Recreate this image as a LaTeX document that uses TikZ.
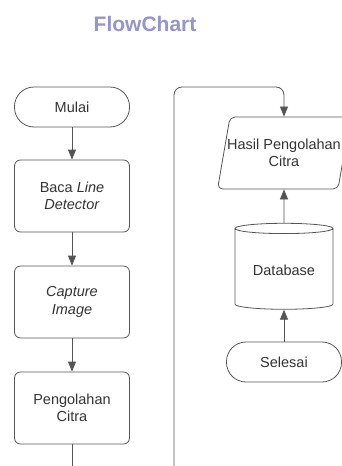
\documentclass[tikz,border=0pt]{standalone}
\usepackage{fontspec}
\setmainfont{Liberation Sans}
\usepackage{xcolor}
\usepackage{tikz}
\usetikzlibrary{positioning}
\usetikzlibrary{shapes.geometric,arrows.meta}
\definecolor{garis}{RGB}{85,85,85}
\definecolor{judul}{RGB}{148,148,206}
\definecolor{teks}{RGB}{51,51,51}

\begin{document}
\begin{tikzpicture}[x=1pt, y=1pt, node distance = 106pt and 2cm, on grid, line width=0.8pt, font=\fontsize{14.5}{17.5}\selectfont, text=teks, proses/.style={rectangle, rounded corners=6pt, draw=garis, minimum width=115pt, minimum height=72pt, align=center}, terminal/.style={rectangle, rounded corners=19.5pt, draw=garis, minimum width=115pt, minimum height=40pt}, io/.style={trapezium, trapezium left angle=74, trapezium right angle=106, trapezium stretches=true, rounded corners=5pt, draw=garis, minimum width=133pt, minimum height=72pt, align=center}, db/.style={cylinder, shape border rotate=90, aspect=0.15, draw=garis, minimum width=98pt, minimum height=86pt}, panah/.style={draw=garis, -{Triangle[length=10pt,width=8pt]}}]
\useasboundingbox (0,0) rectangle (341,-466);
\node[font=\bfseries\fontsize{21}{25}\selectfont, text=judul] (title) at (145,-24) {FlowChart};
% kolom kiri
\node[terminal] (mulai) at (72,-107) {Mulai};
\node[proses] (baca) [below = 89pt of mulai] {Baca \textit{Line}\\\textit{Detector}};
\node[proses] (capture) [below = of baca] {\textit{Capture}\\\textit{Image}};
\node[proses] (olah) [below = of capture] {Pengolahan\\Citra};
\coordinate (kiri) at (72,-466);
% kolom kanan
\node[io] (hasil) at (284,-153) {\makebox[80pt]{Hasil Pengolahan}\\Citra};
\node[db] (database) [below = 117pt of hasil] {Database};
\node[terminal] (selesai) [below = 92pt of database] {Selesai};
\coordinate (kanan) at (174,-466);
\coordinate[above = 66pt of hasil] (atas);
\path[panah] (mulai) -- (baca);
\path[panah] (baca) -- (capture);
\path[panah] (capture) -- (olah);
\draw[garis] (olah) -- (kiri);
\path[panah, rounded corners=8pt] (kanan) |- (atas) -- (hasil);
\path[panah] (database) -- (hasil);
\path[panah] (selesai) -- (database);
\end{tikzpicture}
\end{document}
